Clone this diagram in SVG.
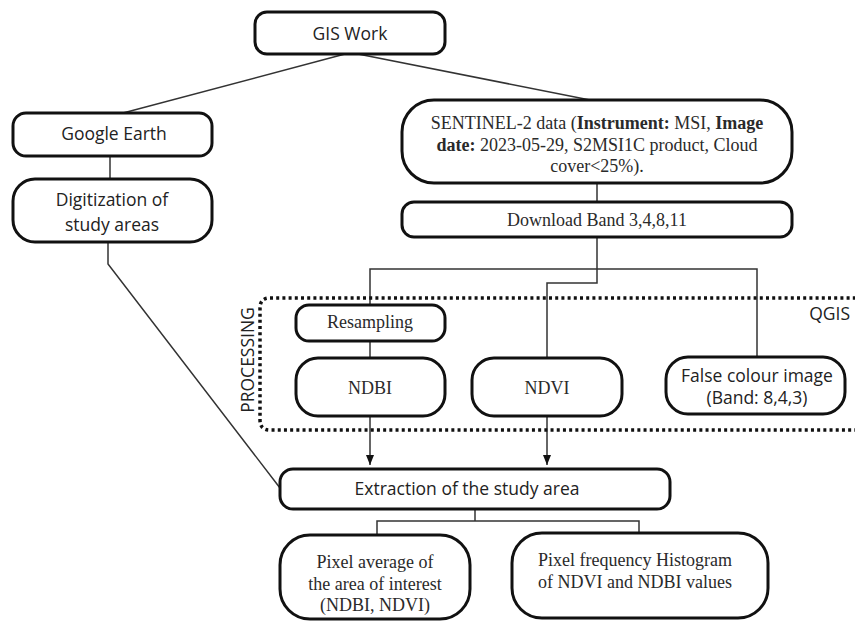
<svg xmlns="http://www.w3.org/2000/svg" width="855" height="621" viewBox="0 0 855 621">
<defs>
<style>
.box{fill:#fff;stroke:#111;stroke-width:3}
.ln{fill:none;stroke:#333;stroke-width:1.5}
.sans{font-family:"Open Sans","Liberation Sans",sans-serif;font-size:17.5px;fill:#222;text-anchor:middle}
.serif{font-family:"Liberation Serif","Times New Roman",serif;font-size:18px;fill:#2a2a2a;text-anchor:middle}
.b{font-weight:bold}
</style>
<marker id="arr" viewBox="0 0 10 10" refX="10" refY="5" markerWidth="10" markerHeight="10" markerUnits="userSpaceOnUse" orient="auto">
<path d="M0,1 L10,5 L0,9 z" fill="#111"/>
</marker>
</defs>
<rect width="855" height="621" fill="#fff"/>
<g id="connectors">
<line class="ln" x1="345" y1="54" x2="123" y2="113"/>
<line class="ln" x1="358" y1="54" x2="590" y2="100"/>
<line class="ln" x1="110" y1="156" x2="110" y2="179"/>
<polyline class="ln" points="108,242 108,264 280,488"/>
<line class="ln" x1="597" y1="183" x2="597" y2="202"/>
<polyline class="ln" points="597,237 597,283 547,283 547,358"/>
<polyline class="ln" points="370,305 370,269 757,269 757,357"/>
<line class="ln" x1="370" y1="341" x2="370" y2="358"/>
<line class="ln" x1="370" y1="416" x2="370" y2="465" marker-end="url(#arr)"/>
<line class="ln" x1="547" y1="416" x2="547" y2="465" marker-end="url(#arr)"/>
<polyline class="ln" points="475,509 475,521"/>
<polyline class="ln" points="377,535 377,521 639,521 639,533"/>
</g>
<g id="qgis-group">
<path d="M862 298 H270 Q260 298 260 308 V420 Q260 430 270 430 H862" fill="none" stroke="#111" stroke-width="3.5" stroke-dasharray="3 3.2"/>
<text class="sans" transform="translate(254,360) rotate(-90)">PROCESSING</text>
<text class="sans" x="850" y="320" style="text-anchor:end">QGIS</text>
</g>
<g id="gis-work">
<rect class="box" x="255" y="12" width="190" height="42" rx="12"/>
<text class="sans" x="350" y="40">GIS Work</text>
</g>
<g id="google-earth">
<rect class="box" x="13" y="113" width="199" height="43" rx="13"/>
<text class="sans" x="114" y="140">Google Earth</text>
</g>
<g id="digitization">
<rect class="box" x="13" y="179" width="199" height="63" rx="22"/>
<text class="sans" x="112" y="206">Digitization of</text>
<text class="sans" x="112" y="231">study areas</text>
</g>
<g id="sentinel">
<rect class="box" x="402" y="100" width="390" height="83" rx="32"/>
<text class="serif" x="597" y="129">SENTINEL-2 data (<tspan class="b">Instrument:</tspan> MSI, <tspan class="b">Image</tspan></text>
<text class="serif" x="597" y="151"><tspan class="b">date:</tspan> 2023-05-29, S2MSI1C product, Cloud</text>
<text class="serif" x="597" y="172">cover&lt;25%).</text>
</g>
<g id="download">
<rect class="box" x="402" y="202" width="390" height="35" rx="12"/>
<text class="serif" x="597" y="226">Download Band 3,4,8,11</text>
</g>
<g id="resampling">
<rect class="box" x="296" y="305" width="149" height="36" rx="13"/>
<text class="serif" x="370" y="328">Resampling</text>
</g>
<g id="ndbi">
<rect class="box" x="296" y="358" width="149" height="58" rx="22"/>
<text class="serif" x="370" y="394">NDBI</text>
</g>
<g id="ndvi">
<rect class="box" x="472" y="358" width="150" height="58" rx="22"/>
<text class="serif" x="547" y="394">NDVI</text>
</g>
<g id="false-colour">
<rect class="box" x="666" y="357" width="179" height="57" rx="22"/>
<text class="sans" x="757" y="382">False colour image</text>
<text class="sans" x="757" y="404">(Band: 8,4,3)</text>
</g>
<g id="extraction">
<rect class="box" x="280" y="469" width="390" height="40" rx="13"/>
<text class="sans" x="467" y="495">Extraction of the study area</text>
</g>
<g id="pixel-average">
<rect class="box" x="280" y="535" width="190" height="84" rx="30"/>
<text class="serif" x="375" y="568">Pixel average of</text>
<text class="serif" x="375" y="590">the area of interest</text>
<text class="serif" x="375" y="611">(NDBI, NDVI)</text>
</g>
<g id="pixel-frequency">
<rect class="box" x="512" y="533" width="256" height="85" rx="30"/>
<text class="serif" x="635" y="566">Pixel frequency Histogram</text>
<text class="serif" x="635" y="588">of NDVI and NDBI values</text>
</g>
</svg>
